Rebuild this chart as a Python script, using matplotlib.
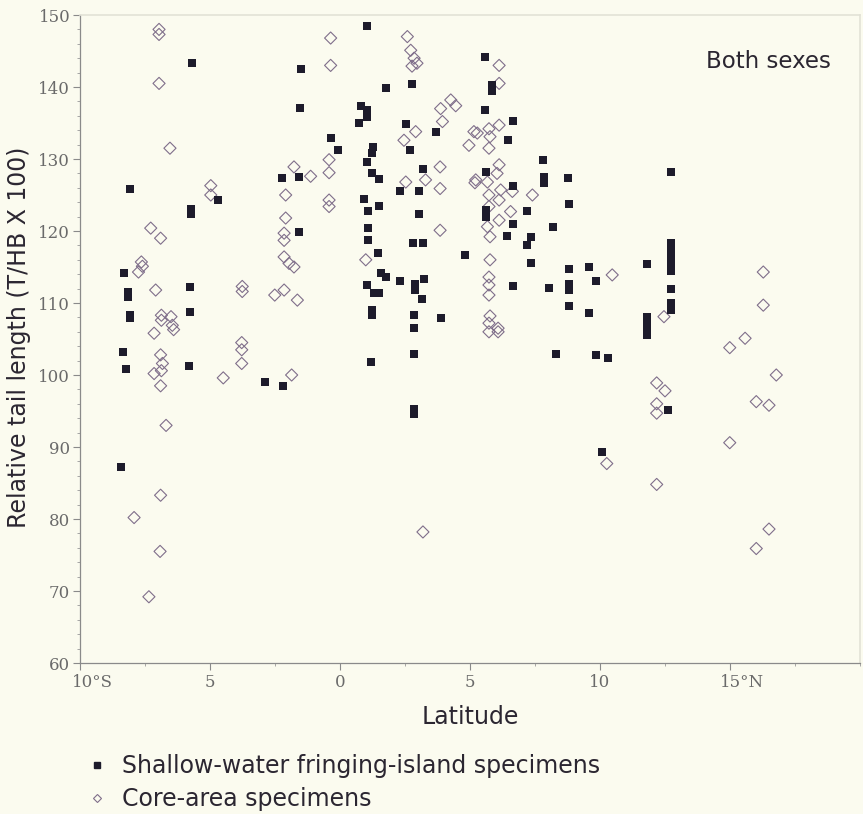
import matplotlib

matplotlib.use("Agg")
import matplotlib.pyplot as plt
from matplotlib.lines import Line2D
from matplotlib.ticker import MultipleLocator
from matplotlib.transforms import ScaledTranslation

# relative tail length against latitude, both sexes pooled
fringe_lat = [
    -5.70, -8.09, -4.69, -5.72, -5.72, -2.22, -8.31, -8.15, -8.15, -8.09,
    -8.09, -5.78, -5.78, -8.33, -8.24, -5.80, -2.88, -2.18, -8.41,
    1.05, -1.51, -1.55, 1.78, 2.76, 0.82, 1.05, 1.05, 0.73, 2.53,
    3.68, -0.36, -0.06, 1.27, 1.22, 1.05, 1.22, 1.50, 2.68, 3.19,
    -1.58, 2.29, 3.04, 0.92, 1.50, 1.09, 3.04, -1.58, 1.09, 1.09,
    2.80, 3.20, 1.47, 4.81, 1.56, 1.78, 2.29, 2.88, 3.23, 1.05,
    1.31, 1.50, 2.88, 3.14, 1.24, 1.24, 2.85, 3.90, 2.85,
    5.56, 5.86, 5.86, 5.56, 6.67, 6.47, 7.82, 7.85, 7.85, 8.77,
    5.60, 6.67, 8.81, 5.60, 5.60, 7.20, 6.67, 8.20, 6.44, 7.36,
    7.20, 7.36, 9.58, 8.81, 8.81, 8.81, 9.83, 6.67, 8.04, 11.80,
    8.81, 9.58, 12.72, 12.72, 12.72, 12.72, 12.72, 12.72, 12.72, 12.72,
    12.72, 12.72, 11.80, 11.80, 11.80, 11.80, 8.29, 9.83, 10.32, 12.62,
    10.06, 2.85, 1.20, 2.85, 2.85,
]
fringe_tail = [
    143.4, 125.9, 124.3, 122.3, 123.0, 127.4, 114.2, 111.5, 110.8, 108.3,
    107.9, 112.2, 108.7, 103.2, 100.8, 101.2, 99.0, 98.5, 87.2,
    148.5, 142.5, 137.1, 139.9, 140.4, 137.3, 136.8, 135.9, 135.0, 134.8,
    133.7, 132.9, 131.2, 131.7, 130.8, 129.6, 128.1, 127.2, 131.2, 128.6,
    127.5, 125.5, 125.5, 124.4, 123.5, 122.8, 122.3, 119.8, 120.4, 118.8,
    118.4, 118.4, 116.9, 116.7, 114.1, 113.6, 113.0, 112.7, 113.3, 112.5,
    111.4, 111.4, 111.8, 110.5, 109.0, 108.3, 108.4, 107.9, 106.5,
    144.2, 140.3, 139.4, 136.8, 135.3, 132.7, 129.8, 127.5, 126.6, 127.3,
    128.2, 126.2, 123.8, 122.9, 122.0, 122.8, 121.0, 120.6, 119.3, 119.2,
    118.0, 115.5, 115.0, 114.7, 112.7, 111.8, 113.0, 112.3, 112.1, 115.4,
    109.6, 108.6, 128.2, 118.3, 117.5, 116.7, 116.0, 115.2, 114.5, 112.0,
    110.0, 109.0, 108.0, 107.2, 106.4, 105.6, 102.9, 102.8, 102.3, 95.1,
    89.3, 102.9, 101.8, 95.3, 94.6,
]

core_lat = [
    -6.96, -6.96, -6.96, -6.54, -4.97, -4.97, -7.28, -6.90, -7.64, -7.60,
    -7.75, -7.09, -3.76, -3.76, -2.51, -6.87, -6.87, -6.50, -6.45, -7.15,
    -6.40, -6.90, -6.83, -7.15, -6.87, -6.90, -6.69, -6.90, -7.92, -6.92,
    -7.35, -4.49, -3.78, -3.78, -3.78,
    2.59, 2.72, 2.85, 2.96, 2.77, -0.36, -0.36, 3.87, 4.26, 4.45,
    3.94, 2.91, 2.46, 5.15, 4.96, -0.42, -0.42, -1.13, -1.77, -2.09,
    3.85, 3.29, 2.53, 3.85, -0.42, -0.42, 5.19, -2.09, -2.15, -2.15,
    3.85, -2.15, -1.96, -1.77, 0.99, -2.15, -1.64,
    6.12, 6.12, 5.28, 5.73, 6.12, 5.77, 5.73, 6.12, 6.04, 5.67,
    6.18, 5.73, 6.12, 6.63, 6.56, 6.12, 5.73, 5.22, 5.67, 5.77,
    5.77, 5.73, 5.73, 5.73, 5.77, 5.73, 6.08, 7.40, 10.47, 12.46,
    16.28, 16.28, 15.58, 14.99, 16.78, 16.01, 16.50, 14.99, 16.50, 16.01,
    5.73, 6.08, 12.18, 12.50, 12.18, 12.18, 10.26, 12.18,
    -1.86, 3.19,
]
core_tail = [
    148.0, 147.3, 140.5, 131.5, 126.3, 125.0, 120.4, 119.0, 115.7, 115.1,
    114.3, 111.8, 112.3, 111.6, 111.1, 108.3, 107.6, 108.1, 106.9, 105.8,
    106.3, 102.8, 101.6, 100.2, 100.6, 98.5, 93.0, 83.3, 80.2, 75.5,
    69.2, 99.6, 104.5, 103.5, 101.6,
    147.0, 145.1, 144.0, 143.3, 142.9, 146.8, 143.0, 137.0, 138.2, 137.4,
    135.2, 133.8, 132.6, 133.8, 131.9, 129.9, 128.1, 127.6, 128.9, 125.0,
    128.9, 127.1, 126.8, 125.9, 124.3, 123.4, 126.7, 121.8, 119.7, 118.7,
    120.1, 116.4, 115.5, 115.0, 116.0, 111.8, 110.4,
    143.0, 140.5, 133.6, 134.2, 134.7, 133.1, 131.5, 129.2, 128.0, 126.8,
    125.7, 125.0, 124.3, 125.5, 122.7, 121.5, 123.4, 127.1, 120.6, 119.2,
    116.0, 113.6, 112.5, 111.1, 108.2, 107.2, 106.5, 125.0, 113.9, 108.1,
    114.3, 109.7, 105.1, 103.8, 100.0, 96.3, 95.8, 90.6, 78.6, 75.9,
    106.0, 106.0, 98.9, 97.8, 96.0, 94.7, 87.7, 84.8,
    100.0, 78.2,
]

lat_ticks = [-10, -5, 0, 5, 10, 15]
lat_labels = ["10°S", "5", "0", "5", "10", "15°N"]
legend_labels = ["Shallow-water fringing-island specimens",
                 "Core-area specimens"]

PAPER = "#fbfbef"
INK = "#1d1b2b"
LILAC = "#7f6e8a"
TEXT = "#2b2631"

plt.rcParams["font.family"] = ["DejaVu Sans"]

fig = plt.figure(figsize=(8.63, 8.14), dpi=100, facecolor=PAPER)
ax = fig.add_axes([80 / 863, 1 - 663 / 814, 780 / 863, 648 / 814])
ax.set_facecolor(PAPER)

ax.scatter(core_lat, core_tail, marker="D", s=38, facecolors="none",
           edgecolors=LILAC, linewidths=0.8, zorder=2)
ax.scatter(fringe_lat, fringe_tail, marker="s", s=28, color=INK,
           linewidths=0, zorder=3)

ax.set_xlim(-10, 20)
ax.set_ylim(60, 150)
ax.set_xticks(lat_ticks)
ax.set_xticklabels(lat_labels)
ax.xaxis.set_minor_locator(MultipleLocator(2.5))
ax.yaxis.set_major_locator(MultipleLocator(10))
ax.yaxis.set_minor_locator(MultipleLocator(2))

for side in ("left", "bottom"):
    ax.spines[side].set_color("#8a8a8a")
    ax.spines[side].set_linewidth(0.9)
for side in ("top", "right"):
    ax.spines[side].set_color("#e2e2d6")
    ax.spines[side].set_linewidth(1.2)

ax.tick_params(which="major", direction="out", length=5, width=0.8,
               color="#8a8a8a", labelcolor="#6a6a6a", labelsize=12, pad=3)
ax.tick_params(which="minor", direction="out", length=2.5, width=0.6,
               color="#9a9a9a")
ax.tick_params(axis="y", pad=2)
for lab in ax.get_xticklabels() + ax.get_yticklabels():
    lab.set_fontfamily("DejaVu Serif")

# hang the hemisphere suffix to the right of the tick
shift = ScaledTranslation(0.12, 0, fig.dpi_scale_trans)
xlabs = ax.get_xticklabels()
for lab in (xlabs[0], xlabs[-1]):
    lab.set_transform(lab.get_transform() + shift)

ax.set_xlabel("Latitude", fontsize=17, color=TEXT)
ax.xaxis.set_label_coords(0.5, -0.083)
ax.xaxis.label.set_va("center")
ax.set_ylabel("Relative tail length (T/HB X 100)", fontsize=17, color=TEXT)
ax.yaxis.set_label_coords(-0.078, 0.503)
ax.yaxis.label.set_va("center")

ax.text(0.882, 0.9275, "Both sexes", transform=ax.transAxes, fontsize=16.5,
        color=TEXT, ha="center", va="center")

handles = [
    Line2D([], [], ls="none", marker="s", markersize=4.5, color=INK),
    Line2D([], [], ls="none", marker="D", markersize=4.5,
           markerfacecolor="none", markeredgecolor=LILAC,
           markeredgewidth=0.8),
]
fig.legend(handles, legend_labels, loc="upper left",
           bbox_to_anchor=(88 / 863, 1 - 754 / 814), frameon=False,
           fontsize=17, labelcolor=TEXT, handlelength=0.8,
           handletextpad=0.65, labelspacing=0.4, borderpad=0,
           borderaxespad=0)

fig.savefig("out.png", dpi=100, facecolor=PAPER)
